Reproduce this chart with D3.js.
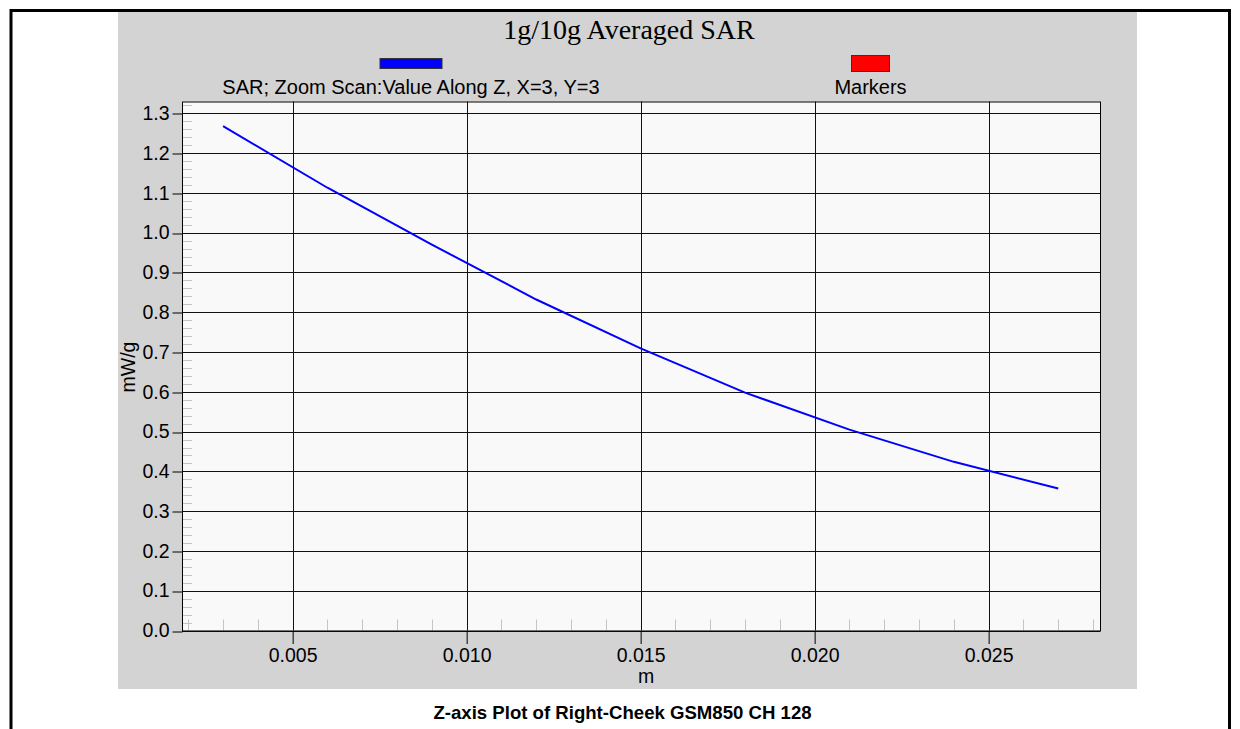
<!DOCTYPE html>
<html>
<head>
<meta charset="utf-8">
<script src="https://cdn.jsdelivr.net/npm/d3@7"></script>
<style>
  body { margin: 0; background: #fff; }
  svg { display: block; font-family: "Liberation Sans", Arial, sans-serif; }
</style>
</head>
<body>
<svg id="container"></svg>
<script>
// data
const zPositions = [0.003, 0.006, 0.009, 0.012, 0.015, 0.018, 0.021, 0.024, 0.027];
const sarValues = [1.268, 1.113, 0.970, 0.832, 0.709, 0.598, 0.505, 0.424, 0.357];
const xTickValues = [0.005, 0.010, 0.015, 0.020, 0.025];
const yTickValues = [0.0, 0.1, 0.2, 0.3, 0.4, 0.5, 0.6, 0.7, 0.8, 0.9, 1.0, 1.1, 1.2, 1.3];
const legendLabels = ['SAR; Zoom Scan:Value Along Z, X=3, Y=3', 'Markers'];
const legendColors = ['#0000ff', '#ff0000'];

const width = 1240;
const height = 729;

const svg = d3.select('#container')
    .attr('width', width)
    .attr('height', height);

// outer frame
svg.append('path')
    .attr('d', 'M11,729V10.5H1229.5V729')
    .attr('fill', 'none')
    .attr('stroke', '#000')
    .attr('stroke-width', 3);

// gray panel
svg.append('rect')
    .attr('x', 118)
    .attr('y', 12)
    .attr('width', 1019)
    .attr('height', 677)
    .attr('fill', '#d3d3d3');

const plot = { left: 182, right: 1100, top: 101.5, bottom: 630.5 };

const x = d3.scaleLinear()
    .domain([0.00182, 0.0282])
    .range([plot.left, plot.right]);

const y = d3.scaleLinear()
    .domain([0, 1.3298])
    .range([plot.bottom, plot.top]);

svg.append('rect')
    .attr('x', plot.left)
    .attr('y', plot.top)
    .attr('width', plot.right - plot.left)
    .attr('height', plot.bottom - plot.top)
    .attr('fill', '#f9f9f9');

// minor ticks (inside the plot)
const yMinor = d3.range(1, 67).map(i => i * 0.02).filter(v => Math.abs(v * 10 - Math.round(v * 10)) > 1e-6);
svg.append('g')
    .selectAll('line')
    .data(yMinor)
    .enter()
    .append('line')
    .attr('x1', plot.left)
    .attr('x2', plot.left + 10)
    .attr('y1', d => Math.round(y(d)) + 0.5)
    .attr('y2', d => Math.round(y(d)) + 0.5)
    .attr('stroke', '#c4c4c4');

const xMinor = d3.range(2, 29).map(i => i * 0.001).filter(v => (Math.round(v * 1000) % 5) !== 0);
svg.append('g')
    .selectAll('line')
    .data(xMinor)
    .enter()
    .append('line')
    .attr('x1', d => Math.round(x(d)) + 0.5)
    .attr('x2', d => Math.round(x(d)) + 0.5)
    .attr('y1', plot.bottom)
    .attr('y2', plot.bottom - 11)
    .attr('stroke', '#c4c4c4');

// grid
svg.append('g')
    .selectAll('line')
    .data(yTickValues)
    .enter()
    .append('line')
    .attr('x1', plot.left)
    .attr('x2', plot.right)
    .attr('y1', d => Math.round(y(d)) + 0.5)
    .attr('y2', d => Math.round(y(d)) + 0.5)
    .attr('stroke', '#111');

svg.append('g')
    .selectAll('line')
    .data(xTickValues)
    .enter()
    .append('line')
    .attr('x1', d => Math.round(x(d)) + 0.5)
    .attr('x2', d => Math.round(x(d)) + 0.5)
    .attr('y1', plot.top)
    .attr('y2', plot.bottom)
    .attr('stroke', '#111');

svg.append('rect')
    .attr('x', plot.left + 0.5)
    .attr('y', plot.top + 0.5)
    .attr('width', plot.right - plot.left)
    .attr('height', plot.bottom - plot.top)
    .attr('fill', 'none')
    .attr('stroke', '#000');

// axes
const yAxis = svg.append('g')
    .attr('transform', 'translate(' + (plot.left + 0.5) + ',0)')
    .call(d3.axisLeft(y).tickValues(yTickValues).tickSize(10).tickPadding(3).tickFormat(d3.format('.1f')));

const xAxis = svg.append('g')
    .attr('transform', 'translate(0,' + (plot.bottom + 0.5) + ')')
    .call(d3.axisBottom(x).tickValues(xTickValues).tickSize(13).tickPadding(4).tickFormat(d3.format('.3f')));

[yAxis, xAxis].forEach(function(ax) {
    ax.select('.domain').remove();
    ax.selectAll('.tick line').attr('stroke', '#000');
    ax.selectAll('.tick text')
        .attr('fill', '#000')
        .style('font-family', '"Liberation Sans", Arial, sans-serif')
        .style('font-size', '19.5px');
});
yAxis.selectAll('.tick line').attr('transform', d => 'translate(0,' + (Math.round(y(d)) + 0.5 - y(d)) + ')');

// data line
const line = d3.line()
    .x((d, i) => x(zPositions[i]))
    .y(d => y(d));

svg.append('path')
    .datum(sarValues)
    .attr('d', line)
    .attr('fill', 'none')
    .attr('stroke', '#0000ff')
    .attr('stroke-width', 2);

// titles
svg.append('text')
    .attr('x', 629)
    .attr('y', 39)
    .attr('text-anchor', 'middle')
    .style('font-family', '"Liberation Serif", "Times New Roman", serif')
    .style('font-size', '28px')
    .text('1g/10g Averaged SAR');

// legend
const legendX = [411, 870.5];
const legendBoxes = [
    { w: 62, h: 10, y: 58.5 },
    { w: 38, h: 16, y: 55.5 }
];
legendLabels.forEach(function(label, i) {
    svg.append('rect')
        .attr('x', legendX[i] - legendBoxes[i].w / 2)
        .attr('y', legendBoxes[i].y)
        .attr('width', legendBoxes[i].w)
        .attr('height', legendBoxes[i].h)
        .attr('fill', legendColors[i])
        .attr('stroke', '#333')
        .attr('stroke-width', 1);
    svg.append('text')
        .attr('x', legendX[i])
        .attr('y', 94)
        .attr('text-anchor', 'middle')
        .style('font-size', '20px')
        .text(label);
});

svg.append('text')
    .attr('transform', 'translate(135,367) rotate(-90)')
    .attr('text-anchor', 'middle')
    .style('font-size', '19.5px')
    .text('mW/g');

svg.append('text')
    .attr('x', 646)
    .attr('y', 683)
    .attr('text-anchor', 'middle')
    .style('font-size', '19.5px')
    .text('m');

svg.append('text')
    .attr('x', 622.5)
    .attr('y', 719)
    .attr('text-anchor', 'middle')
    .style('font-size', '18.6px')
    .style('font-weight', 'bold')
    .text('Z-axis Plot of Right-Cheek GSM850 CH 128');
</script>
</body>
</html>
